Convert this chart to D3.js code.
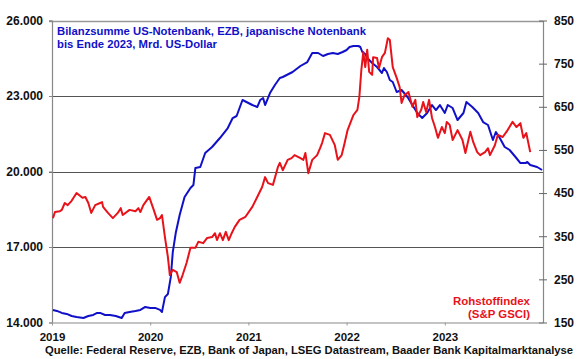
<!DOCTYPE html>
<html><head><meta charset="utf-8">
<script src="https://cdn.jsdelivr.net/npm/d3@7"></script>
<style>
body{margin:0;background:#fff;}
svg{display:block;font-family:"Liberation Sans",Arial,sans-serif;}
</style></head>
<body><svg id="c" width="580" height="359"></svg>
<script>
// ---- data ----
const leftTicks = [14000, 17000, 20000, 23000, 26000];
const rightTicks = [150, 250, 350, 450, 550, 650, 750, 850];
const yearTicks = [2019, 2020, 2021, 2022, 2023];
const titleLines = ["Bilanzsumme US-Notenbank, EZB, japanische Notenbank", "bis Ende 2023, Mrd. US-Dollar"];
const redLabel = ["Rohstoffindex", "(S&P GSCI)"];
const sourceText = "Quelle: Federal Reserve, EZB, Bank of Japan, LSEG Datastream, Baader Bank Kapitalmarktanalyse";

// Bilanzsumme (Mrd. US-Dollar), time in decimal years
const balanceTime = [2019.01,2019.05,2019.10,2019.15,2019.20,2019.25,2019.32,2019.37,2019.42,2019.46,2019.49,2019.54,2019.59,2019.65,2019.71,2019.74,2019.79,2019.85,2019.90,2019.95,2020.00,2020.05,2020.10,2020.12,2020.15,2020.18,2020.21,2020.23,2020.26,2020.30,2020.35,2020.41,2020.44,2020.46,2020.51,2020.56,2020.63,2020.71,2020.79,2020.84,2020.88,2020.94,2021.00,2021.04,2021.09,2021.12,2021.15,2021.17,2021.22,2021.27,2021.32,2021.35,2021.39,2021.45,2021.53,2021.60,2021.65,2021.71,2021.76,2021.81,2021.86,2021.91,2021.96,2022.00,2022.03,2022.07,2022.12,2022.14,2022.16,2022.19,2022.21,2022.26,2022.31,2022.36,2022.38,2022.41,2022.44,2022.47,2022.51,2022.56,2022.62,2022.67,2022.72,2022.77,2022.82,2022.87,2022.91,2022.95,2023.00,2023.03,2023.08,2023.13,2023.19,2023.22,2023.28,2023.34,2023.39,2023.44,2023.49,2023.52,2023.56,2023.61,2023.66,2023.72,2023.77,2023.82,2023.84,2023.87,2023.94,2023.99];
const balanceValue = [14500,14460,14380,14340,14260,14220,14180,14260,14300,14380,14380,14300,14300,14260,14180,14380,14420,14460,14500,14620,14580,14580,14500,14420,15010,15130,15810,16800,17555,18270,18986,19344,19463,20140,20180,20734,20973,21330,21728,22125,22205,22841,22722,22642,22562,22840,22920,22642,23119,23437,23715,23755,23834,23953,24192,24350,24708,24708,24589,24669,24708,24669,24748,24828,24947,24987,24987,24947,24748,24669,24510,24311,24152,23914,24112,23953,23636,23556,23159,23238,22960,22642,22324,22125,22324,22642,22443,22642,22324,22642,22523,22046,22324,22761,22562,22324,21966,21847,21251,21569,21331,20973,20854,20576,20337,20337,20377,20258,20178,20059];

// Rohstoffindex (S&P GSCI)
const gsciTime = [2019.01,2019.03,2019.08,2019.10,2019.13,2019.16,2019.20,2019.25,2019.31,2019.34,2019.37,2019.40,2019.44,2019.49,2019.51,2019.52,2019.57,2019.62,2019.67,2019.70,2019.72,2019.79,2019.85,2019.88,2019.90,2019.93,2019.99,2020.03,2020.07,2020.10,2020.12,2020.15,2020.18,2020.20,2020.23,2020.27,2020.30,2020.33,2020.37,2020.41,2020.46,2020.49,2020.54,2020.58,2020.63,2020.66,2020.68,2020.71,2020.74,2020.77,2020.80,2020.83,2020.86,2020.91,2020.97,2021.04,2021.09,2021.14,2021.17,2021.20,2021.25,2021.30,2021.32,2021.35,2021.40,2021.44,2021.47,2021.53,2021.56,2021.58,2021.61,2021.65,2021.70,2021.73,2021.75,2021.78,2021.83,2021.88,2021.91,2021.95,2021.98,2022.01,2022.07,2022.11,2022.13,2022.15,2022.17,2022.19,2022.21,2022.23,2022.26,2022.27,2022.31,2022.33,2022.36,2022.39,2022.42,2022.44,2022.47,2022.51,2022.54,2022.56,2022.59,2022.63,2022.67,2022.70,2022.72,2022.76,2022.78,2022.81,2022.84,2022.87,2022.90,2022.93,2022.97,2023.00,2023.02,2023.05,2023.08,2023.13,2023.18,2023.21,2023.26,2023.29,2023.33,2023.36,2023.41,2023.44,2023.46,2023.51,2023.54,2023.59,2023.64,2023.69,2023.73,2023.77,2023.80,2023.83,2023.87];
const gsciValue = [392,406,408,411,427,422,432,450,439,441,427,404,422,427,429,418,404,392,404,415,399,411,408,415,406,422,441,415,388,392,399,348,302,260,272,267,242,260,288,323,323,337,334,346,348,357,341,357,341,360,341,357,371,388,395,418,441,464,487,473,469,510,520,503,527,531,538,531,527,543,496,527,538,554,566,589,585,561,527,538,566,596,631,643,673,735,777,742,782,731,724,765,763,740,765,775,809,805,742,717,696,659,677,684,650,666,626,643,661,638,666,624,603,578,603,589,615,608,573,596,573,543,592,568,545,538,545,554,538,561,585,580,596,615,603,612,578,589,545];

// ---- chart ----
const svg = d3.select("#c");
const M = {l: 52, r: 543, t: 20.5, b: 322.5};
const x = d3.scaleLinear().domain([2019, 2024]).range([M.l, M.r]);
const yL = d3.scaleLinear().domain([14000, 26000]).range([M.b, M.t]);
const yR = d3.scaleLinear().domain([150, 850]).range([M.b, M.t]);
const fmt = d3.format(",.0f");
const de = v => fmt(v).replace(/,/g, ".");
const FS = 11.5;

const blue = "#1010C8", red = "#E8121A";

// gridlines (left axis)
svg.append("g").selectAll("line").data(leftTicks.slice(1, -1)).join("line")
  .attr("x1", M.l - 3).attr("x2", M.r).attr("y1", d => Math.round(yL(d)) + 0.5).attr("y2", d => Math.round(yL(d)) + 0.5)
  .attr("stroke", "#555").attr("stroke-width", 1);

// frame top
svg.append("line").attr("x1", M.l - 3).attr("x2", M.r).attr("y1", Math.round(yL(26000)) + 0.5).attr("y2", Math.round(yL(26000)) + 0.5)
  .attr("stroke", "#999").attr("stroke-width", 1.5);

// left axis
const gl = svg.append("g").attr("transform", `translate(${M.l},0)`)
  .call(d3.axisLeft(yL).tickValues(leftTicks).tickFormat(de).tickSize(3).tickPadding(6));
gl.select(".domain").attr("stroke", "#888").attr("stroke-width", 1.2);
gl.selectAll(".tick line").attr("stroke", "#888");
gl.selectAll("text").attr("font-size", 12).attr("font-weight", "bold").attr("fill", "#111").attr("font-family", "Liberation Sans, Arial, sans-serif");

// right axis
const gr = svg.append("g").attr("transform", `translate(${M.r},0)`)
  .call(d3.axisRight(yR).tickValues(rightTicks).tickFormat(d3.format("d")).tickSizeInner(4).tickSizeOuter(0).tickPadding(7));
gr.select(".domain").attr("stroke", "#888").attr("stroke-width", 1.2);
gr.selectAll(".tick line").attr("x1", -4).attr("stroke", "#666");
gr.selectAll("text").attr("font-size", 12).attr("font-weight", "bold").attr("fill", "#111").attr("font-family", "Liberation Sans, Arial, sans-serif");

// bottom axis
const gb = svg.append("g").attr("transform", `translate(0,${M.b})`)
  .call(d3.axisBottom(x).tickValues(yearTicks).tickFormat(d3.format("d")).tickSizeInner(3).tickSizeOuter(0).tickPadding(7));
gb.select(".domain").attr("stroke", "#888").attr("stroke-width", 1.2);
gb.selectAll(".tick line").attr("stroke", "#999");
gb.selectAll("text").attr("font-size", FS).attr("font-weight", "bold").attr("fill", "#111").attr("font-family", "Liberation Sans, Arial, sans-serif");

// lines
const blueData = balanceTime.map((t, i) => [t, balanceValue[i]]);
const redData = gsciTime.map((t, i) => [t, gsciValue[i]]);
svg.append("path").datum(blueData)
  .attr("d", d3.line().x(d => x(d[0])).y(d => yL(d[1])))
  .attr("fill", "none").attr("stroke", blue).attr("stroke-width", 2).attr("stroke-linejoin", "round");
svg.append("path").datum(redData)
  .attr("d", d3.line().x(d => x(d[0])).y(d => yR(d[1])))
  .attr("fill", "none").attr("stroke", red).attr("stroke-width", 2).attr("stroke-linejoin", "round");

// title
const titleW = [309, 160];
svg.append("g").selectAll("text").data(titleLines).join("text")
  .attr("x", 57).attr("y", (d, i) => 35 + i * 13)
  .attr("textLength", (d, i) => titleW[i]).attr("lengthAdjust", "spacingAndGlyphs")
  .attr("font-size", FS).attr("font-weight", "bold").attr("fill", blue).text(d => d);

// red label
const redW = [77, 62];
svg.append("g").selectAll("text").data(redLabel).join("text")
  .attr("x", (d, i) => 530 - redW[i]).attr("y", (d, i) => 305 + i * 12.5)
  .attr("textLength", (d, i) => redW[i]).attr("lengthAdjust", "spacingAndGlyphs")
  .attr("font-size", FS).attr("font-weight", "bold").attr("fill", red).text(d => d);

// source
svg.append("text").attr("x", 45).attr("y", 354)
  .attr("textLength", 528).attr("lengthAdjust", "spacingAndGlyphs")
  .attr("font-size", 11.2).attr("font-weight", "bold").attr("fill", "#111").text(sourceText);
</script></body></html>
